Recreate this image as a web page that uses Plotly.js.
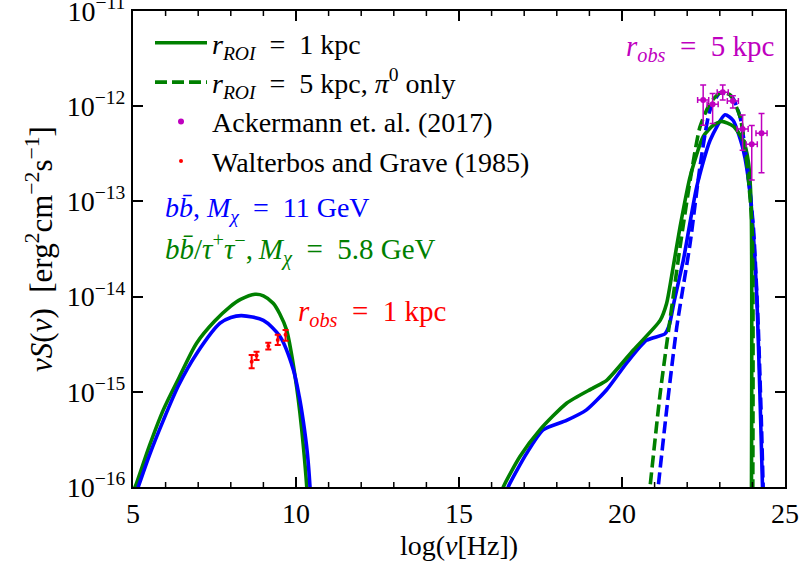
<!DOCTYPE html>
<html>
<head>
<meta charset="utf-8">
<script src="https://cdn.plot.ly/plotly-3.0.1.min.js"></script>
<style>html,body{margin:0;padding:0;background:#fff;}#chart{width:801px;height:571px;}</style>
</head>
<body>
<div id="chart"></div>
<script>
// ---- data ----
const greenRadioX = [5.0, 5.11, 5.5, 5.93, 6.4, 6.95, 7.5, 7.98, 8.3, 8.74, 9.0, 9.3, 9.5, 9.71, 9.85, 10.02, 10.12, 10.22, 10.33, 10.36];
const greenRadioY = [8.9e-17, 1.10e-16, 2.69e-16, 6.46e-16, 1.38e-15, 3.24e-15, 5.50e-15, 7.85e-15, 9.33e-15, 1.057e-14, 1.02e-14, 8.51e-15, 6.61e-15, 4.47e-15, 2.63e-15, 1.12e-15, 6.03e-16, 2.82e-16, 1.0e-16, 6.3e-17];

const blueRadioX = [5.1, 5.16, 5.5, 5.93, 6.4, 6.95, 7.67, 8.0, 8.33, 9.0, 9.51, 9.92, 10.1, 10.22, 10.35, 10.43, 10.46];
const blueRadioY = [8.7e-17, 1.0e-16, 2.14e-16, 5.01e-16, 1.17e-15, 2.51e-15, 5.25e-15, 6.03e-15, 6.31e-15, 5.62e-15, 3.80e-15, 1.70e-15, 8.91e-16, 5.01e-16, 2.24e-16, 1.0e-16, 6.3e-17];

const greenGammaX = [16.3, 16.36, 16.87, 17.48, 18.30, 19.12, 19.53, 20.35, 21.17, 21.37, 21.52, 21.78, 22.09, 22.49, 22.80, 23.06, 23.41, 23.72, 23.87, 23.96, 23.97];
const greenGammaY = [8.3e-17, 1.0e-16, 2.09e-16, 3.98e-16, 7.59e-16, 1.10e-15, 1.32e-15, 2.75e-15, 5.62e-15, 8.51e-15, 1.62e-14, 5.37e-14, 1.82e-13, 4.79e-13, 6.31e-13, 6.92e-13, 6.17e-13, 4.37e-13, 2.69e-13, 9.55e-14, 6.3e-17];

const blueGammaX = [16.45, 16.51, 17.07, 17.58, 18.30, 18.91, 19.53, 20.14, 20.75, 21.32, 21.45, 21.6, 21.88, 22.29, 22.70, 23.16, 23.41, 23.72, 23.93, 24.13, 24.23, 24.31, 24.33];
const blueGammaY = [8.3e-17, 1.0e-16, 2.24e-16, 3.98e-16, 5.01e-16, 6.46e-16, 1.05e-15, 2.00e-15, 3.47e-15, 4.07e-15, 5.01e-15, 8.91e-15, 2.40e-14, 1.41e-13, 4.37e-13, 8.13e-13, 7.08e-13, 3.47e-13, 1.20e-13, 1.07e-14, 9.55e-16, 1.0e-16, 6.3e-17];

const greenPi0X = [20.82, 20.86, 21.17, 21.47, 21.78, 22.09, 22.39, 22.70, 23.01, 23.31, 23.62, 23.82, 23.99, 24.01];
const greenPi0Y = [7.1e-17, 1.0e-16, 9.55e-16, 5.62e-15, 3.31e-14, 1.66e-13, 6.03e-13, 1.07e-12, 1.38e-12, 1.32e-12, 7.76e-13, 2.69e-13, 5.37e-14, 6.3e-17];

const bluePi0X = [21.07, 21.11, 21.37, 21.68, 22.09, 22.39, 22.70, 23.01, 23.37, 23.62, 23.82, 24.03, 24.18, 24.28, 24.33, 24.35];
const bluePi0Y = [7.1e-17, 1.0e-16, 6.46e-16, 4.79e-15, 3.63e-14, 2.29e-13, 9.12e-13, 1.38e-12, 1.26e-12, 7.76e-13, 2.69e-13, 5.37e-14, 4.79e-15, 4.27e-16, 1.0e-16, 6.3e-17];

const ackermannX = [22.49, 22.78, 23.09, 23.40, 23.70, 23.98, 24.28];
const ackermannY = [1.16e-12, 1.05e-12, 1.40e-12, 1.135e-12, 5.75e-13, 3.98e-13, 5.2e-13];
const ackermannErrPlus = [0.51e-12, 0.31e-12, 0.27e-12, 0.15e-12, 2.35e-13, 2.3e-13, 3.2e-13];
const ackermannErrMinus = [0.53e-12, 0.39e-12, 0.24e-12, 0.18e-12, 2.3e-13, 2.3e-13, 3.2e-13];
const ackermannXErr = [0.17, 0.17, 0.17, 0.17, 0.17, 0.17, 0.17];

const walterbosX = [8.64, 8.79, 9.15, 9.44, 9.68];
const walterbosY = [2.07e-15, 2.40e-15, 3.02e-15, 3.50e-15, 3.98e-15];
const walterbosErrPlus = [0.37e-15, 0.23e-15, 0.26e-15, 0.48e-15, 0.49e-15];
const walterbosErrMinus = [0.30e-15, 0.24e-15, 0.23e-15, 0.40e-15, 0.54e-15];

const yTickVals = [1e-16, 1e-15, 1e-14, 1e-13, 1e-12, 1e-11];
const yTickText = ['10<sup>−16</sup>', '10<sup>−15</sup>', '10<sup>−14</sup>', '10<sup>−13</sup>', '10<sup>−12</sup>', '10<sup>−11</sup>'];
const yMinorDigits = [2, 3, 4, 5, 6, 7, 8, 9];
const yDecades = [1e-16, 1e-15, 1e-14, 1e-13, 1e-12];
const xTickVals = [5, 10, 15, 20, 25];
const xTickText = ['5', '10', '15', '20', '25'];
const xMinorVals = [6, 7, 8, 9, 11, 12, 13, 14, 16, 17, 18, 19, 21, 22, 23, 24];

// minor tick positions on the log axis (2..9 in each decade)
const yMinorVals = [];
yDecades.forEach(d => yMinorDigits.forEach(k => yMinorVals.push(k * d)));

// ---- styling ----
const GREEN = '#008000', BLUE = '#0000ff', MAG = '#bf00bf', RED = '#ff0000';
const FONT = 'Liberation Serif, Times New Roman, serif';
const LW = 3.6;
const DASH = '12px,5px';
const SP = '\u2002';   // en space, mimics TeX math spacing around "="

const traces = [
  {x: greenRadioX, y: greenRadioY, mode: 'lines', line: {color: GREEN, width: LW, shape: 'spline', smoothing: 0.8},
   name: '<i>r<sub>ROI</sub></i>' + SP + '=' + SP + '1 kpc', legendgroup: 'a', legendrank: 1, showlegend: true},
  {x: blueRadioX, y: blueRadioY, mode: 'lines', line: {color: BLUE, width: LW, shape: 'spline', smoothing: 0.8}, showlegend: false},
  {x: blueGammaX, y: blueGammaY, mode: 'lines', line: {color: BLUE, width: LW, shape: 'spline', smoothing: 0.6}, showlegend: false},
  {x: greenGammaX, y: greenGammaY, mode: 'lines', line: {color: GREEN, width: LW, shape: 'spline', smoothing: 0.6}, showlegend: false, legendgroup: 'a'},
  {x: bluePi0X, y: bluePi0Y, mode: 'lines', line: {color: BLUE, width: LW, dash: DASH, shape: 'spline', smoothing: 0.6}, showlegend: false},
  {x: greenPi0X, y: greenPi0Y, mode: 'lines', line: {color: GREEN, width: LW, dash: DASH, shape: 'spline', smoothing: 0.6},
   name: '<i>r<sub>ROI</sub></i>' + SP + '=' + SP + '5 kpc, <i>π</i><sup>0</sup> only', legendgroup: 'b', legendrank: 2, showlegend: true},
  {x: ackermannX, y: ackermannY, mode: 'markers', marker: {color: MAG, size: 6},
   error_y: {type: 'data', symmetric: false, array: ackermannErrPlus, arrayminus: ackermannErrMinus, color: MAG, thickness: 1.5, width: 3},
   error_x: {type: 'data', array: ackermannXErr, color: MAG, thickness: 1.5, width: 3},
   name: 'Ackermann et. al. (2017)', legendgroup: 'c', legendrank: 3, showlegend: true},
  {x: walterbosX, y: walterbosY, mode: 'markers', marker: {color: RED, size: 4},
   error_y: {type: 'data', symmetric: false, array: walterbosErrPlus, arrayminus: walterbosErrMinus, color: RED, thickness: 2, width: 3},
   name: 'Walterbos and Grave (1985)', legendgroup: 'd', legendrank: 4, showlegend: true}
];

const PLOT_W = 652, PLOT_H = 476;
const px2x = p => (p - 133) / PLOT_W;
const px2y = p => 1 - (p - 11) / PLOT_H;

// minor inside tick marks on all four sides, placed through the axes' own scales
const MIN = 5, MINW = 1.5;
const tickShapes = [];
const xTick = v => {
  tickShapes.push({type: 'line', layer: 'above', xref: 'x', yref: 'paper', x0: v, x1: v, y0: 0, y1: MIN / PLOT_H, line: {color: '#000', width: MINW}});
  tickShapes.push({type: 'line', layer: 'above', xref: 'x', yref: 'paper', x0: v, x1: v, y0: 1, y1: 1 - MIN / PLOT_H, line: {color: '#000', width: MINW}});
};
const yTick = v => {
  const lv = Math.log10(v);  // shapes on log axes take log coordinates
  tickShapes.push({type: 'line', layer: 'above', xref: 'paper', yref: 'y', x0: 0, x1: MIN / PLOT_W, y0: lv, y1: lv, line: {color: '#000', width: MINW}});
  tickShapes.push({type: 'line', layer: 'above', xref: 'paper', yref: 'y', x0: 1, x1: 1 - MIN / PLOT_W, y0: lv, y1: lv, line: {color: '#000', width: MINW}});
};
xMinorVals.forEach(xTick);
yMinorVals.forEach(yTick);

const tickFont = {family: FONT, size: 28, color: '#000'};

const layout = {
  width: 801, height: 571,
  margin: {l: 133, r: 16, t: 11, b: 84, pad: 0},
  paper_bgcolor: '#fff', plot_bgcolor: '#fff',
  font: {family: FONT, size: 28, color: '#000'},
  showlegend: true,
  legend: {x: px2x(150), y: px2y(18), xanchor: 'left', yanchor: 'top', bgcolor: 'rgba(0,0,0,0)',
           font: {family: FONT, size: 28, color: '#000'}, traceorder: 'grouped', tracegroupgap: 0, itemwidth: 52},
  xaxis: {
    range: [5, 25], tickmode: 'array', tickvals: xTickVals, ticktext: xTickText,
    showline: true, linecolor: '#000', linewidth: 2, mirror: 'allticks',
    ticks: 'inside', ticklen: 10, tickwidth: 2, tickcolor: '#000',
    showgrid: false, zeroline: false, tickfont: tickFont,
    title: {text: 'log(<i>ν</i>[Hz])', font: {family: FONT, size: 28, color: '#000'}, standoff: 8}
  },
  yaxis: {
    type: 'log', range: [-16.00001, -10.99999], tickmode: 'array', tickvals: yTickVals, ticktext: yTickText,
    ticklabeloverflow: 'allow',
    showline: true, linecolor: '#000', linewidth: 2, mirror: 'allticks',
    ticks: 'inside', ticklen: 10, tickwidth: 2, tickcolor: '#000',
    showgrid: false, zeroline: false, tickfont: tickFont,
    title: {text: '<i>νS</i>(<i>ν</i>)  [erg<sup>2</sup>cm<sup>−2</sup>s<sup>−1</sup>]', font: {family: FONT, size: 31, color: '#000'}, standoff: 5}
  },
  shapes: tickShapes,
  annotations: [
    {xref: 'paper', yref: 'paper', x: px2x(163), y: px2y(209), xanchor: 'left', yanchor: 'middle', showarrow: false,
     text: '<i>bb\u0304</i>, <i>M<sub>χ</sub></i>' + SP + '=' + SP + '11 GeV', font: {family: FONT, size: 28, color: BLUE}},
    {xref: 'paper', yref: 'paper', x: px2x(163), y: px2y(249), xanchor: 'left', yanchor: 'middle', showarrow: false,
     text: '<i>bb\u0304</i>/<i>τ</i><sup>+</sup><i>τ</i><sup>−</sup>,\u2009<i>M<sub>χ</sub></i>' + SP + '=' + SP + '5.8 GeV', font: {family: FONT, size: 29, color: GREEN}},
    {xref: 'paper', yref: 'paper', x: px2x(296), y: px2y(313), xanchor: 'left', yanchor: 'middle', showarrow: false,
     text: '<i>r<sub>obs</sub></i>' + SP + '=' + SP + '1 kpc', font: {family: FONT, size: 29, color: RED}},
    {xref: 'paper', yref: 'paper', x: px2x(776), y: px2y(48), xanchor: 'right', yanchor: 'middle', showarrow: false,
     text: '<i>r<sub>obs</sub></i>' + SP + '=' + SP + '5 kpc', font: {family: FONT, size: 29, color: MAG}}
  ]
};

Plotly.newPlot('chart', traces, layout, {displayModeBar: false, staticPlot: true});
</script>
</body>
</html>
